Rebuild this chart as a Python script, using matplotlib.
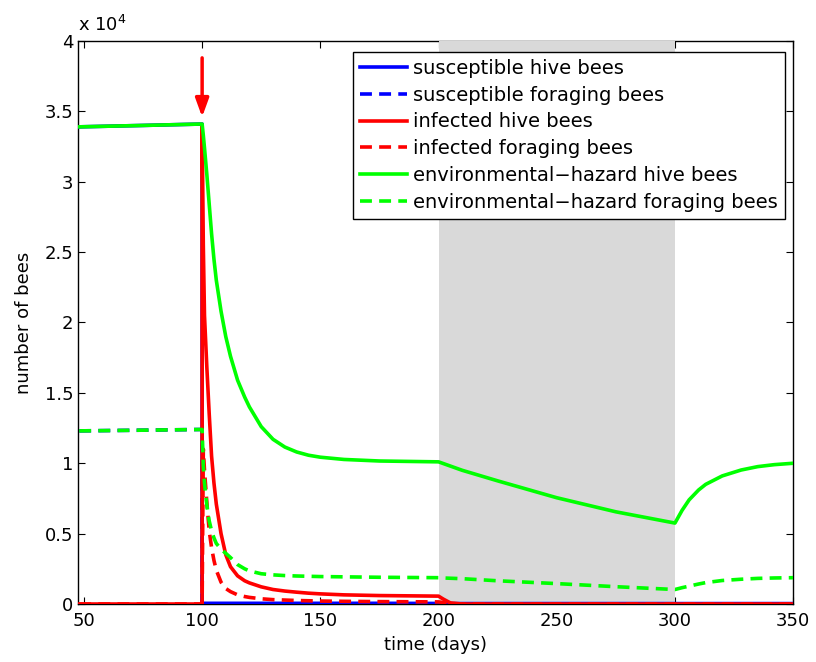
import numpy as np
import matplotlib
matplotlib.use('Agg')
import matplotlib.pyplot as plt

plt.rcParams['font.family'] = ['DejaVu Sans']
plt.rcParams['mathtext.default'] = 'regular'

# time (days); 100 appears twice for the jump at the infection event
t = [48, 75, 100, 100, 100.5, 101, 102, 103, 104, 105, 106, 108, 110, 112, 115,
     118, 120, 125, 130, 135, 140, 145, 150, 160, 175, 200, 202, 205, 210, 225,
     250, 275, 300, 303, 306, 310, 313, 320, 328, 335, 342, 350]

# number of bees in units of 10^4
sus_hive = [3.39, 3.40, 3.41] + [0.005] * 22 + [0.004, 0.003] + [0.003] * 15
sus_forag = [1.23, 1.235, 1.24] + [0] * 39
inf_hive = [0, 0, 0, 3.40, 2.55, 2.05, 1.68, 1.35, 1.05, 0.86, 0.71, 0.50, 0.35,
            0.265, 0.20, 0.165, 0.15, 0.122, 0.103, 0.092, 0.084, 0.077, 0.072,
            0.065, 0.06, 0.056, 0.035, 0.008, 0, 0, 0, 0, 0, 0, 0, 0, 0, 0, 0,
            0, 0, 0]
inf_forag = [0, 0, 0, 0, 1.1, 0.95, 0.72, 0.52, 0.40, 0.31, 0.24, 0.155, 0.11,
             0.088, 0.065, 0.053, 0.047, 0.037, 0.031, 0.028, 0.025, 0.023, 0.021,
             0.019, 0.017, 0.015, 0.01, 0.003, 0, 0, 0, 0, 0, 0, 0, 0, 0, 0, 0,
             0, 0, 0]
env_hive = [3.39, 3.40, 3.41, 3.41, 3.33, 3.24, 3.05, 2.84, 2.63, 2.45, 2.30, 2.08,
            1.90, 1.76, 1.59, 1.47, 1.40, 1.26, 1.17, 1.115, 1.08, 1.057, 1.043,
            1.027, 1.016, 1.01, 0.998, 0.98, 0.95, 0.875, 0.755, 0.655, 0.575,
            0.665, 0.74, 0.81, 0.85, 0.91, 0.952, 0.976, 0.99, 1.0]
env_forag = [1.23, 1.235, 1.24, 1.24, 0.98, 0.86, 0.70, 0.59, 0.52, 0.47, 0.43,
             0.39, 0.36, 0.33, 0.28, 0.25, 0.235, 0.215, 0.207, 0.202, 0.199,
             0.197, 0.195, 0.193, 0.19, 0.187, 0.185, 0.183, 0.18, 0.165, 0.145,
             0.123, 0.103, 0.116, 0.127, 0.142, 0.152, 0.167, 0.176, 0.182,
             0.185, 0.187]

labels = ['susceptible hive bees', 'susceptible foraging bees',
          'infected hive bees', 'infected foraging bees',
          'environmental\u2212hazard hive bees',
          'environmental\u2212hazard foraging bees']

fig = plt.figure(figsize=(8.16, 6.62), dpi=100)
ax = fig.add_axes([0.0956, 0.0876, 0.8764, 0.8505])

# shaded period sits over the frame, under the curves
ax.axvspan(200, 300, color='#d9d9d9', lw=0, zorder=2.6)

lw = 2.6
dsh = (3.3, 2.0)
ax.plot(t, sus_hive, color='b', lw=lw, label=labels[0], zorder=3)
ax.plot(t, sus_forag, color='b', lw=lw, dashes=dsh, label=labels[1], zorder=3)
ax.plot(t, inf_hive, color='r', lw=lw, label=labels[2], zorder=3)
ax.plot(t, inf_forag, color='r', lw=lw, dashes=dsh, label=labels[3], zorder=3)
ax.plot(t, env_hive, color='#00ff00', lw=lw, label=labels[4], zorder=3)
ax.plot(t, env_forag, color='#00ff00', lw=lw, dashes=dsh, label=labels[5], zorder=3)

ax.annotate('', xy=(100, 3.46), xytext=(100, 3.88),
            arrowprops=dict(arrowstyle='-|>,head_width=0.4,head_length=1.1',
                            color='r', lw=2.5, shrinkA=0, shrinkB=0))

ax.set_xlim(47.5, 350)
ax.set_ylim(0, 4)
ax.set_xticks(np.arange(50, 351, 50))
ax.set_yticks(np.arange(0, 4.01, 0.5))
ax.set_yticklabels(['0', '0.5', '1', '1.5', '2', '2.5', '3', '3.5', '4'])
ax.tick_params(direction='in', top=True, right=True, labelsize=13, length=5,
               width=0.8)
ax.tick_params(axis='x', pad=6)
for s in ax.spines.values():
    s.set_linewidth(1.0)

ax.set_xlabel('time (days)', fontsize=13, labelpad=4)
ax.set_ylabel('number of bees', fontsize=13, labelpad=8)
ax.text(0.0, 1.01, 'x 10$^{4}$', transform=ax.transAxes, fontsize=13,
        ha='left', va='bottom')

leg = ax.legend(loc='upper right', bbox_to_anchor=(785 / 816, 1 - 52 / 662),
                bbox_transform=fig.transFigure, borderaxespad=0,
                fontsize=14, frameon=True, fancybox=False, edgecolor='k',
                framealpha=1, handlelength=2.4, labelspacing=0.4,
                handletextpad=0.35, borderpad=0.35)
leg.get_frame().set_linewidth(1.0)
leg.set_zorder(5)

fig.savefig('out.png', dpi=100)
